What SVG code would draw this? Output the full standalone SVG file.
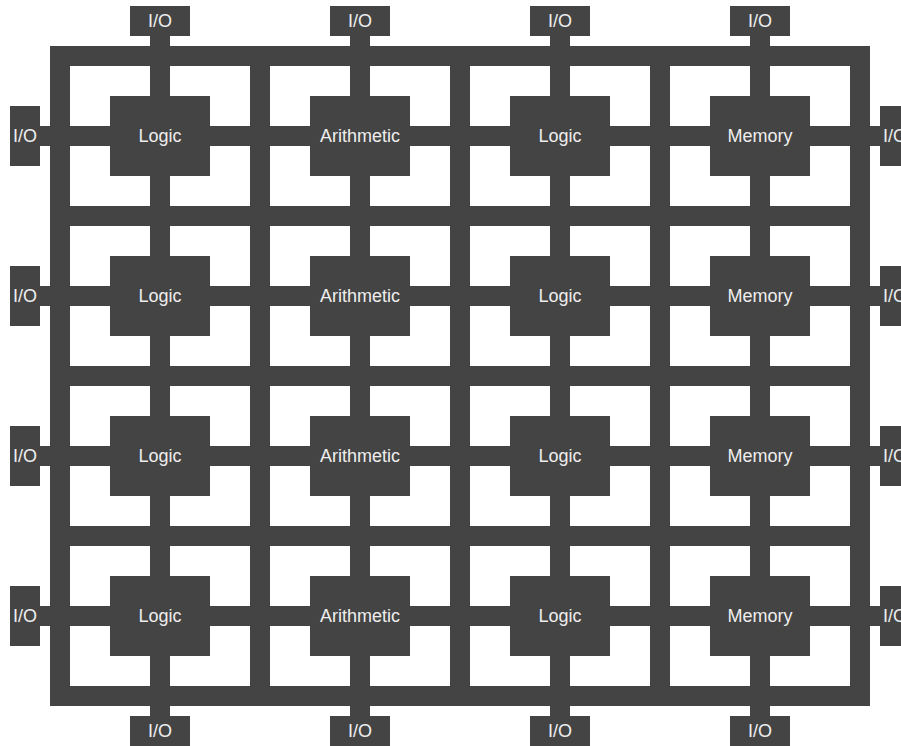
<svg xmlns="http://www.w3.org/2000/svg" width="901" height="746" viewBox="0 0 901 746">
<style>
.d{fill:#444444}
.t{fill:#eeeeee;font-family:"Liberation Sans",Arial,sans-serif;font-size:18px;text-anchor:middle;dominant-baseline:central}
.io{fill:#eeeeee;font-family:"Liberation Sans",Arial,sans-serif;font-size:18px;text-anchor:middle;dominant-baseline:central}
</style>
<rect width="901" height="746" fill="#ffffff"/>
<g id="connectors">
<rect x="50.5" y="46.5" width="819" height="659" fill="none" stroke="#aaaaaa" stroke-width="1"/>
<path d="M60,56H860V696H60Z" fill="none" stroke="#444444" stroke-width="20"/>
<rect class="d" x="250" y="56" width="20" height="640"/>
<rect class="d" x="450" y="56" width="20" height="640"/>
<rect class="d" x="650" y="56" width="20" height="640"/>
<rect class="d" x="60" y="206" width="800" height="20"/>
<rect class="d" x="60" y="366" width="800" height="20"/>
<rect class="d" x="60" y="526" width="800" height="20"/>
<rect class="d" x="150" y="36" width="20" height="680"/>
<rect class="d" x="350" y="36" width="20" height="680"/>
<rect class="d" x="550" y="36" width="20" height="680"/>
<rect class="d" x="750" y="36" width="20" height="680"/>
<rect class="d" x="40" y="126" width="840" height="20"/>
<rect class="d" x="40" y="286" width="840" height="20"/>
<rect class="d" x="40" y="446" width="840" height="20"/>
<rect class="d" x="40" y="606" width="840" height="20"/>
</g>
<g id="r1c1"><rect class="d" x="110" y="96" width="100" height="80"/><text class="t" x="160" y="136">Logic</text></g>
<g id="r1c2"><rect class="d" x="310" y="96" width="100" height="80"/><text class="t" x="360" y="136">Arithmetic</text></g>
<g id="r1c3"><rect class="d" x="510" y="96" width="100" height="80"/><text class="t" x="560" y="136">Logic</text></g>
<g id="r1c4"><rect class="d" x="710" y="96" width="100" height="80"/><text class="t" x="760" y="136">Memory</text></g>
<g id="r2c1"><rect class="d" x="110" y="256" width="100" height="80"/><text class="t" x="160" y="296">Logic</text></g>
<g id="r2c2"><rect class="d" x="310" y="256" width="100" height="80"/><text class="t" x="360" y="296">Arithmetic</text></g>
<g id="r2c3"><rect class="d" x="510" y="256" width="100" height="80"/><text class="t" x="560" y="296">Logic</text></g>
<g id="r2c4"><rect class="d" x="710" y="256" width="100" height="80"/><text class="t" x="760" y="296">Memory</text></g>
<g id="r3c1"><rect class="d" x="110" y="416" width="100" height="80"/><text class="t" x="160" y="456">Logic</text></g>
<g id="r3c2"><rect class="d" x="310" y="416" width="100" height="80"/><text class="t" x="360" y="456">Arithmetic</text></g>
<g id="r3c3"><rect class="d" x="510" y="416" width="100" height="80"/><text class="t" x="560" y="456">Logic</text></g>
<g id="r3c4"><rect class="d" x="710" y="416" width="100" height="80"/><text class="t" x="760" y="456">Memory</text></g>
<g id="r4c1"><rect class="d" x="110" y="576" width="100" height="80"/><text class="t" x="160" y="616">Logic</text></g>
<g id="r4c2"><rect class="d" x="310" y="576" width="100" height="80"/><text class="t" x="360" y="616">Arithmetic</text></g>
<g id="r4c3"><rect class="d" x="510" y="576" width="100" height="80"/><text class="t" x="560" y="616">Logic</text></g>
<g id="r4c4"><rect class="d" x="710" y="576" width="100" height="80"/><text class="t" x="760" y="616">Memory</text></g>
<g id="io-top1"><rect class="d" x="130" y="6" width="60" height="30"/><text class="io" x="160" y="21">I/O</text></g>
<g id="io-top2"><rect class="d" x="330" y="6" width="60" height="30"/><text class="io" x="360" y="21">I/O</text></g>
<g id="io-top3"><rect class="d" x="530" y="6" width="60" height="30"/><text class="io" x="560" y="21">I/O</text></g>
<g id="io-top4"><rect class="d" x="730" y="6" width="60" height="30"/><text class="io" x="760" y="21">I/O</text></g>
<g id="io-bot1"><rect class="d" x="130" y="716" width="60" height="30"/><text class="io" x="160" y="731">I/O</text></g>
<g id="io-bot2"><rect class="d" x="330" y="716" width="60" height="30"/><text class="io" x="360" y="731">I/O</text></g>
<g id="io-bot3"><rect class="d" x="530" y="716" width="60" height="30"/><text class="io" x="560" y="731">I/O</text></g>
<g id="io-bot4"><rect class="d" x="730" y="716" width="60" height="30"/><text class="io" x="760" y="731">I/O</text></g>
<g id="io-left1"><rect class="d" x="10" y="106" width="30" height="60"/><text class="io" x="25" y="136">I/O</text></g>
<g id="io-left2"><rect class="d" x="10" y="266" width="30" height="60"/><text class="io" x="25" y="296">I/O</text></g>
<g id="io-left3"><rect class="d" x="10" y="426" width="30" height="60"/><text class="io" x="25" y="456">I/O</text></g>
<g id="io-left4"><rect class="d" x="10" y="586" width="30" height="60"/><text class="io" x="25" y="616">I/O</text></g>
<g id="io-right1"><rect class="d" x="880" y="106" width="30" height="60"/><text class="io" x="895" y="136">I/O</text></g>
<g id="io-right2"><rect class="d" x="880" y="266" width="30" height="60"/><text class="io" x="895" y="296">I/O</text></g>
<g id="io-right3"><rect class="d" x="880" y="426" width="30" height="60"/><text class="io" x="895" y="456">I/O</text></g>
<g id="io-right4"><rect class="d" x="880" y="586" width="30" height="60"/><text class="io" x="895" y="616">I/O</text></g>
</svg>
